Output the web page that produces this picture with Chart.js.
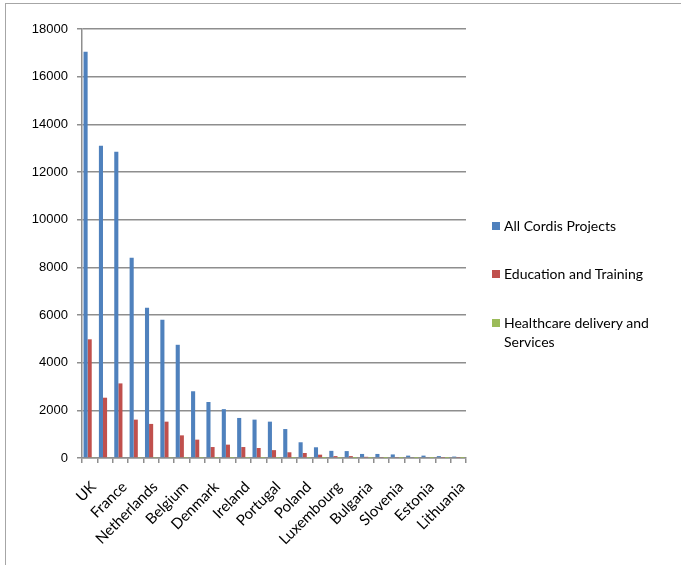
<!DOCTYPE html>
<html>
<head>
<meta charset="utf-8">
<script src="https://cdn.jsdelivr.net/npm/chart.js@4.4.0/dist/chart.umd.min.js"></script>
<style>
  body { margin: 0; background: #fff; }
  #wrap { position: relative; width: 681px; height: 565px; overflow: hidden; background: #fff; }
  #frame { position: absolute; left: 5px; top: 3px; width: 700px; height: 700px; border: 1px solid #a6a6a6; }
  canvas { position: absolute; left: 0; top: 0; }
  .item { position: absolute; left: 492px; padding-left: 12px; font: 14px Lato, sans-serif; color: #000; line-height: 19px; }
  .item span { position: absolute; left: 0; top: 6px; width: 8px; height: 8px; }
</style>
</head>
<body>
<div id="wrap">
  <div id="frame"></div>
  <canvas id="chart" width="681" height="565"></canvas>
  <div id="legend"></div>
</div>
<script>
const countries = ['UK', 'Germany', 'France', 'Italy', 'Netherlands', 'Spain', 'Belgium', 'Sweden',
    'Denmark', 'Greece', 'Ireland', 'Finland', 'Portugal', 'Austria', 'Poland', 'Hungary',
    'Luxembourg', 'Czech Republic', 'Bulgaria', 'Romania', 'Slovenia', 'Cyprus', 'Estonia', 'Latvia', 'Lithuania'];
const allCordis = [17050, 13100, 12850, 8400, 6300, 5800, 4750, 2800, 2350, 2050, 1680, 1610, 1525,
    1215, 660, 450, 300, 290, 170, 170, 150, 100, 100, 80, 60];
const education = [4980, 2530, 3130, 1610, 1430, 1525, 950, 770, 460, 560, 460, 420, 330,
    240, 210, 140, 80, 80, 50, 40, 40, 30, 30, 20, 20];
const healthcare = [40, 25, 30, 15, 15, 15, 10, 8, 6, 6, 5, 5, 4, 4, 3, 2, 2, 2, 1, 1, 1, 1, 1, 1, 1];
const seriesNames = ['All Cordis Projects', 'Education and Training', 'Healthcare delivery and Services'];
const colors = ['#4F81BD', '#C0504D', '#9BBB59'];

const gridColor = '#8e8e8e';

// legend, wrapped like the original
const legendDiv = document.getElementById('legend');
const legendTops = [216, 264, 313];
seriesNames.forEach((name, i) => {
    const item = document.createElement('div');
    item.className = 'item';
    item.style.top = legendTops[i] + 'px';
    const text = i === 2 ? 'Healthcare delivery and<br>Services' : name;
    item.innerHTML = `<span style="background:${colors[i]}"></span>${text}`;
    legendDiv.appendChild(item);
});

const ctx = document.getElementById('chart').getContext('2d');
new Chart(ctx, {
    type: 'bar',
    data: {
        labels: countries,
        datasets: [allCordis, education, healthcare].map((d, i) => ({
            label: seriesNames[i],
            data: d,
            backgroundColor: colors[i],
            categoryPercentage: 0.8,
            barPercentage: 1.0,
        }))
    },
    options: {
        responsive: false,
        animation: false,
        devicePixelRatio: 1,
        layout: { padding: { top: 29, right: 215, left: 0, bottom: 0 } },
        plugins: { legend: { display: false }, tooltip: { enabled: false } },
        scales: {
            x: {
                grid: { display: true, drawOnChartArea: false, drawTicks: true, tickLength: 5, color: gridColor, lineWidth: 1.5, offset: true },
                border: { color: gridColor, width: 1.5 },
                ticks: {
                    autoSkip: false,
                    minRotation: 45,
                    maxRotation: 45,
                    padding: 15,
                    labelOffset: 4,
                    color: '#000',
                    font: { family: 'Lato', size: 15 },
                    callback: function (val, idx) {
                        return idx % 2 === 0 ? this.getLabelForValue(val) : '';
                    }
                },
                afterFit: scale => { scale.height = 107; }
            },
            y: {
                min: 0,
                max: 18000,
                grid: { color: gridColor, lineWidth: 1.5, tickLength: 5 },
                border: { color: gridColor, width: 1.5 },
                ticks: {
                    stepSize: 2000,
                    padding: 9,
                    color: '#000',
                    font: { family: 'Liberation Sans', size: 13 },
                    callback: v => String(v)
                },
                afterFit: scale => { scale.width = 82; }
            }
        }
    }
});
</script>
</body>
</html>
